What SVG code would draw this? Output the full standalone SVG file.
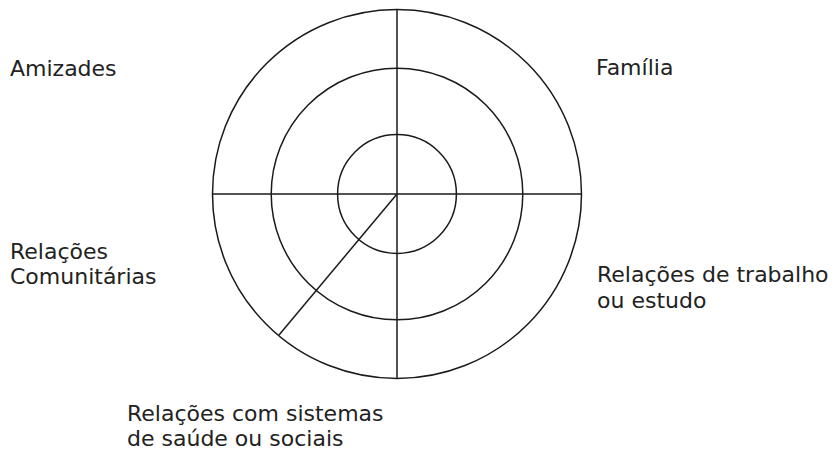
<svg xmlns="http://www.w3.org/2000/svg" width="836" height="451" viewBox="0 0 836 451">
<style>
.ring{fill:none;stroke:#1a1a1a;stroke-width:1.5}
.ln{stroke:#1a1a1a;stroke-width:1.5;fill:none}
.lbl{font-family:"DejaVu Sans",sans-serif;font-size:22px;fill:#222}
</style>
<rect width="836" height="451" fill="#fff"/>
<g id="rings">
<circle class="ring" cx="397" cy="194" r="184.5"/>
<circle class="ring" cx="397" cy="194" r="125.8"/>
<circle class="ring" cx="397" cy="194" r="59.4"/>
</g>
<g id="connectors">
<line class="ln" x1="397" y1="9.5" x2="397" y2="378.5"/>
<line class="ln" x1="212.5" y1="194" x2="581.5" y2="194"/>
<line class="ln" x1="397" y1="194" x2="279" y2="335"/>
</g>
<g id="amizades"><text class="lbl" x="10" y="76">Amizades</text></g>
<g id="familia"><text class="lbl" x="596" y="75">Família</text></g>
<g id="comunitarias"><text class="lbl" x="10" y="259">Relações</text><text class="lbl" x="10" y="283.5">Comunitárias</text></g>
<g id="trabalho"><text class="lbl" x="597" y="282">Relações de trabalho</text><text class="lbl" x="597" y="308">ou estudo</text></g>
<g id="saude"><text class="lbl" x="127" y="420.5">Relações com sistemas</text><text class="lbl" x="127" y="445.5">de saúde ou sociais</text></g>
</svg>
